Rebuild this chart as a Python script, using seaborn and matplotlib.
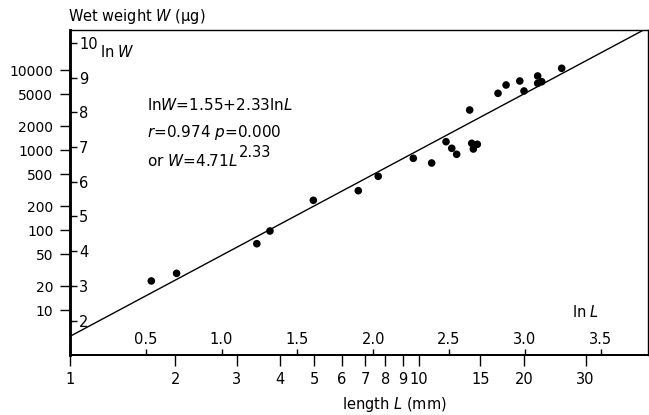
import numpy as np
import pandas as pd
import matplotlib
matplotlib.use("Agg")
import matplotlib.pyplot as plt
import seaborn as sns
from matplotlib.ticker import NullLocator

# ---- data ----
length_mm = [1.71, 2.02, 3.43, 3.74, 4.98, 6.70, 7.64, 9.63, 10.87, 11.95, 12.41, 12.82,
             13.97, 14.16, 14.31, 14.69, 16.84, 17.76, 19.44, 19.99, 21.88, 21.88, 22.47, 25.63]
wet_weight_ug = [23.2, 28.9, 67.8, 97.7, 236.5, 311.8, 471.8, 792, 691.8, 1277, 1056, 888.8,
                 3181, 1220, 1035, 1185, 5143, 6531, 7328, 5495, 8463, 6860, 7183, 10560]

w_ticks = [10, 20, 50, 100, 200, 500, 1000, 2000, 5000, 10000]
lnw_ticks = [2, 3, 4, 5, 6, 7, 8, 9, 10]
l_ticks = [1, 2, 3, 4, 5, 6, 7, 8, 9, 10, 15, 20, 30]
lnl_ticks = [0.5, 1.0, 1.5, 2.0, 2.5, 3.0, 3.5]
lnl_labels = ["0.5", "1.0", "1.5", "2.0", "2.5", "3.0", "3.5"]

fit_intercept = 1.55
fit_slope = 2.33
x_range = (1.0, 45.3)
y_range = (2.754, 31800)

sns.set_style("ticks")
plt.rcParams["font.family"] = ["DejaVu Sans"]
plt.rcParams["mathtext.fontset"] = "dejavusans"
for key in ["text.color", "axes.labelcolor", "xtick.color", "ytick.color",
            "axes.edgecolor"]:
    plt.rcParams[key] = "black"

W, H = 649, 415
fig = plt.figure(figsize=(W / 100, H / 100), dpi=100)
ax = fig.add_axes([70 / W, 1 - 355 / H, 578 / W, 325 / H])
ax.set_xscale("log")
ax.set_yscale("log")


def fpos(x, y):
    return x / W, 1 - y / H


df = pd.DataFrame({"L": length_mm, "W": wet_weight_ug})
line_L = np.array(x_range)
line_df = pd.DataFrame({"L": line_L,
                        "W": np.exp(fit_intercept + fit_slope * np.log(line_L))})

sns.lineplot(data=line_df, x="L", y="W", color="black", lw=1.0, ax=ax)
sns.scatterplot(data=df, x="L", y="W", color="black", s=30, edgecolor="none",
                ax=ax, zorder=3)

ax.set_xlim(*x_range)
ax.set_ylim(*y_range)
ax.set_xlabel("")
ax.set_ylabel("")

ax.set_xticks(l_ticks, [str(t) for t in l_ticks])
ax.set_yticks(w_ticks, [str(t) for t in w_ticks])
ax.xaxis.set_minor_locator(NullLocator())
ax.yaxis.set_minor_locator(NullLocator())
ax.tick_params(axis="x", direction="out", length=8, width=1, pad=4.5, labelsize=10.5,
               colors="black")
ax.tick_params(axis="y", direction="out", length=7, width=1, pad=5, labelsize=10,
               colors="black")

for side, lw in [("left", 1.8), ("bottom", 1.3), ("top", 1.0), ("right", 1.0)]:
    ax.spines[side].set_visible(True)
    ax.spines[side].set_linewidth(lw)
    ax.spines[side].set_color("black")

# inner ln W axis
secy = ax.secondary_yaxis(0.0, functions=(np.log, np.exp))
secy.set_alignment("right")
secy.set_yticks(lnw_ticks, [str(t) for t in lnw_ticks])
secy.yaxis.set_minor_locator(NullLocator())
secy.tick_params(axis="y", direction="out", length=5, width=1, pad=1.5, labelsize=10.5,
                 colors="black")
secy.spines["right"].set_linewidth(1.8)

# inner ln L axis
secx = ax.secondary_xaxis(0.0, functions=(np.log, np.exp))
secx.set_alignment("top")
secx.set_xticks(lnl_ticks, lnl_labels)
secx.xaxis.set_minor_locator(NullLocator())
secx.tick_params(axis="x", direction="out", length=4, width=1, pad=1.5, labelsize=10.5,
                 colors="black")
secx.spines["top"].set_linewidth(1.3)

# texts
fig.text(*fpos(68, 17), r"Wet weight $\it{W}$ (µg)", ha="left", va="center", fontsize=10.5)
fig.text(*fpos(100, 52), r"ln $\it{W}$", ha="left", va="center", fontsize=10.5)
fig.text(*fpos(572, 312), r"ln $\it{L}$", ha="left", va="center", fontsize=10.5)
fig.text(*fpos(394, 404), r"length $\it{L}$ (mm)", ha="center", va="center", fontsize=10.5)

fig.text(*fpos(147, 105), r"ln$\it{W}$=1.55+2.33ln$\it{L}$", ha="left", va="center",
         fontsize=11)
fig.text(*fpos(147, 133), r"$\it{r}$=0.974 $\it{p}$=0.000", ha="left", va="center",
         fontsize=11)
t3 = fig.text(*fpos(147, 161), r"or $\it{W}$=4.71$\it{L}$", ha="left", va="center",
              fontsize=11)
ax.annotate("2.33", xy=(1.0, 0.5), xycoords=t3, xytext=(0.5, 6),
            textcoords="offset points", ha="left", va="center", fontsize=10.5,
            annotation_clip=False)

fig.savefig("out.png", dpi=100)
